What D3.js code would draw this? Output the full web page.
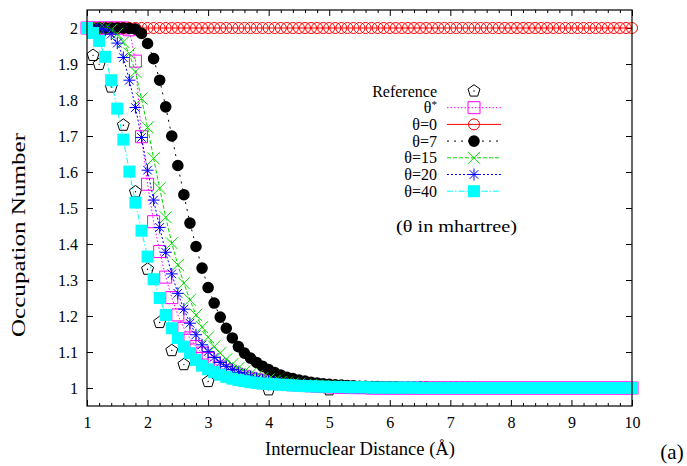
<!DOCTYPE html>
<html>
<head>
<meta charset="utf-8">
<script src="https://cdn.jsdelivr.net/npm/d3@7"></script>
<style>
  body { margin: 0; background: #fff; }
  svg text { font-family: "Liberation Serif", "Times New Roman", serif; fill: #000; }
</style>
</head>
<body>
<svg id="chart" width="687" height="466" viewBox="0 0 687 466"></svg>
<script>
// internuclear distance grid (Angstrom)
const distance = [
  1.0, 1.1, 1.2, 1.3, 1.4, 1.5, 1.6, 1.7, 1.8, 1.9,
  2.0, 2.1, 2.2, 2.3, 2.4, 2.5, 2.6, 2.7, 2.8, 2.9,
  3.0, 3.1, 3.2, 3.3, 3.4, 3.5, 3.6, 3.7, 3.8, 3.9,
  4.0, 4.1, 4.2, 4.3, 4.4, 4.5, 4.6, 4.7, 4.8, 4.9,
  5.0, 5.1, 5.2, 5.3, 5.4, 5.5, 5.6, 5.7, 5.8, 5.9,
  6.0, 6.1, 6.2, 6.3, 6.4, 6.5, 6.6, 6.7, 6.8, 6.9,
  7.0, 7.1, 7.2, 7.3, 7.4, 7.5, 7.6, 7.7, 7.8, 7.9,
  8.0, 8.1, 8.2, 8.3, 8.4, 8.5, 8.6, 8.7, 8.8, 8.9,
  9.0, 9.1, 9.2, 9.3, 9.4, 9.5, 9.6, 9.7, 9.8, 9.9,
  10.0
]

// reference points (own grid)
const refX = [1.1, 1.2, 1.4, 1.6, 1.8, 2.0, 2.2, 2.4, 2.6, 3.0, 4.0, 5.0]
const refY = [1.924, 1.899, 1.836, 1.730, 1.545, 1.330, 1.182, 1.104, 1.065, 1.018, 0.995, 0.995]

const thetaStar = [
  2.000, 2.000, 2.000, 2.000, 2.000, 2.000, 2.000, 1.995, 1.908, 1.698,
  1.566, 1.462, 1.379, 1.308, 1.251, 1.203, 1.166, 1.139, 1.115, 1.097,
  1.082, 1.069, 1.058, 1.049, 1.042, 1.036, 1.031, 1.027, 1.023, 1.020,
  1.017, 1.015, 1.013, 1.011, 1.009, 1.008, 1.007, 1.006, 1.005, 1.004,
  1.003, 1.003, 1.002, 1.002, 1.001, 1.001, 1.001, 1.000, 1.000, 1.000,
  1.000, 1.000, 1.000, 1.000, 1.000, 1.000, 1.000, 1.000, 1.000, 1.000,
  1.000, 1.000, 1.000, 1.000, 1.000, 1.000, 1.000, 1.000, 1.000, 1.000,
  1.000, 1.000, 1.000, 1.000, 1.000, 1.000, 1.000, 1.000, 1.000, 1.000,
  1.000, 1.000, 1.000, 1.000, 1.000, 1.000, 1.000, 1.000, 1.000, 1.000,
  1.000
]

const theta0 = [
  2, 2, 2, 2, 2, 2, 2, 2, 2, 2,
  2, 2, 2, 2, 2, 2, 2, 2, 2, 2,
  2, 2, 2, 2, 2, 2, 2, 2, 2, 2,
  2, 2, 2, 2, 2, 2, 2, 2, 2, 2,
  2, 2, 2, 2, 2, 2, 2, 2, 2, 2,
  2, 2, 2, 2, 2, 2, 2, 2, 2, 2,
  2, 2, 2, 2, 2, 2, 2, 2, 2, 2,
  2, 2, 2, 2, 2, 2, 2, 2, 2, 2,
  2, 2, 2, 2, 2, 2, 2, 2, 2, 2,
  2
]

const theta7 = [
  2.000, 2.000, 2.000, 2.000, 2.000, 2.000, 2.000, 1.999, 1.997, 1.985,
  1.957, 1.915, 1.855, 1.781, 1.700, 1.618, 1.537, 1.458, 1.393, 1.333,
  1.279, 1.236, 1.197, 1.166, 1.139, 1.115, 1.097, 1.083, 1.071, 1.060,
  1.051, 1.043, 1.036, 1.030, 1.026, 1.022, 1.019, 1.016, 1.014, 1.012,
  1.010, 1.009, 1.008, 1.007, 1.006, 1.005, 1.005, 1.004, 1.004, 1.003,
  1.003, 1.003, 1.002, 1.002, 1.002, 1.002, 1.002, 1.001, 1.001, 1.001,
  1.001, 1.001, 1.001, 1.001, 1.001, 1.000, 1.000, 1.000, 1.000, 1.000,
  1.000, 1.000, 1.000, 1.000, 1.000, 1.000, 1.000, 1.000, 1.000, 1.000,
  1.000, 1.000, 1.000, 1.000, 1.000, 1.000, 1.000, 1.000, 1.000, 1.000,
  1.000
]

const theta15 = [
  2.000, 2.000, 2.000, 1.999, 1.995, 1.984, 1.961, 1.929, 1.878, 1.804,
  1.724, 1.638, 1.555, 1.474, 1.402, 1.342, 1.291, 1.245, 1.203, 1.169,
  1.141, 1.115, 1.097, 1.080, 1.066, 1.055, 1.046, 1.039, 1.033, 1.028,
  1.024, 1.020, 1.017, 1.015, 1.013, 1.011, 1.009, 1.008, 1.007, 1.006,
  1.005, 1.005, 1.004, 1.004, 1.003, 1.003, 1.003, 1.002, 1.002, 1.002,
  1.002, 1.001, 1.001, 1.001, 1.001, 1.001, 1.001, 1.001, 1.000, 1.000,
  1.000, 1.000, 1.000, 1.000, 1.000, 1.000, 1.000, 1.000, 1.000, 1.000,
  1.000, 1.000, 1.000, 1.000, 1.000, 1.000, 1.000, 1.000, 1.000, 1.000,
  1.000, 1.000, 1.000, 1.000, 1.000, 1.000, 1.000, 1.000, 1.000, 1.000,
  1.000
]

const theta20 = [
  2.000, 2.000, 1.999, 1.995, 1.983, 1.958, 1.918, 1.855, 1.779, 1.696,
  1.605, 1.522, 1.446, 1.377, 1.317, 1.263, 1.219, 1.180, 1.148, 1.120,
  1.101, 1.085, 1.071, 1.060, 1.051, 1.043, 1.036, 1.031, 1.026, 1.022,
  1.019, 1.016, 1.014, 1.012, 1.010, 1.009, 1.008, 1.007, 1.006, 1.005,
  1.004, 1.004, 1.003, 1.003, 1.003, 1.002, 1.002, 1.002, 1.002, 1.001,
  1.001, 1.001, 1.001, 1.001, 1.001, 1.001, 1.000, 1.000, 1.000, 1.000,
  1.000, 1.000, 1.000, 1.000, 1.000, 1.000, 1.000, 1.000, 1.000, 1.000,
  1.000, 1.000, 1.000, 1.000, 1.000, 1.000, 1.000, 1.000, 1.000, 1.000,
  1.000, 1.000, 1.000, 1.000, 1.000, 1.000, 1.000, 1.000, 1.000, 1.000,
  1.000
]

const theta40 = [
  2.000, 1.986, 1.964, 1.920, 1.855, 1.776, 1.690, 1.601, 1.515, 1.437,
  1.365, 1.302, 1.250, 1.203, 1.166, 1.139, 1.115, 1.097, 1.078, 1.062,
  1.052, 1.044, 1.037, 1.031, 1.026, 1.022, 1.019, 1.016, 1.014, 1.012,
  1.011, 1.010, 1.009, 1.008, 1.007, 1.006, 1.005, 1.005, 1.004, 1.004,
  1.003, 1.003, 1.003, 1.002, 1.002, 1.002, 1.002, 1.001, 1.001, 1.001,
  1.001, 1.001, 1.001, 1.001, 1.001, 1.000, 1.000, 1.000, 1.000, 1.000,
  1.000, 1.000, 1.000, 1.000, 1.000, 1.000, 1.000, 1.000, 1.000, 1.000,
  1.000, 1.000, 1.000, 1.000, 1.000, 1.000, 1.000, 1.000, 1.000, 1.000,
  1.000, 1.000, 1.000, 1.000, 1.000, 1.000, 1.000, 1.000, 1.000, 1.000,
  1.000
]

const xTicks = [1, 2, 3, 4, 5, 6, 7, 8, 9, 10]
const yTicks = [1, 1.1, 1.2, 1.3, 1.4, 1.5, 1.6, 1.7, 1.8, 1.9, 2]

let svg = d3.select('#chart')
let plotLeft = 87, plotRight = 632, plotTop = 10, plotBottom = 406

let x = d3.scaleLinear().domain([1, 10]).range([plotLeft, plotRight])
let y = d3.scaleLinear().domain([0.95, 2.05]).range([plotBottom, plotTop])

// marker paths, centred on 0,0
function pentagon(r) {
    let pts = d3.range(5).map(function (k) {
        let a = -Math.PI / 2 + k * 2 * Math.PI / 5
        return [r * Math.cos(a), r * Math.sin(a)]
    })
    return 'M' + pts.join('L') + 'Z'
}
let markerPath = {
    pentagon: pentagon(6.3),
    square: 'M-6,-6H6V6H-6Z',
    circle: d3.symbol(d3.symbolCircle, Math.PI * 5.5 * 5.5)(),
    dot: d3.symbol(d3.symbolCircle, Math.PI * 5.8 * 5.8)(),
    times: 'M-6,-6L6,6M-6,6L6,-6',
    star: 'M-6,0H6M0,-6V6M-4.3,-4.3L4.3,4.3M-4.3,4.3L4.3,-4.3',
    box: 'M-6,-6H6V6H-6Z'
}

let series = [
    {label: 'Reference', xs: refX, ys: refY, color: '#000', marker: 'pentagon', fill: 'none', dash: null, line: false},
    {label: 'θ*', xs: distance, ys: thetaStar, color: '#ff00ff', marker: 'square', fill: 'none', dash: '1.5,2', line: true},
    {label: 'θ=0', xs: distance, ys: theta0, color: '#ff0000', marker: 'circle', fill: 'none', dash: null, line: true},
    {label: 'θ=7', xs: distance, ys: theta7, color: '#000', marker: 'dot', fill: '#000', dash: '2,5', line: true},
    {label: 'θ=15', xs: distance, ys: theta15, color: '#00dd00', marker: 'times', fill: 'none', dash: '4,2', line: true},
    {label: 'θ=20', xs: distance, ys: theta20, color: '#0000ff', marker: 'star', fill: 'none', dash: '2,2', line: true},
    {label: 'θ=40', xs: distance, ys: theta40, color: '#00ffff', marker: 'box', fill: '#00ffff', dash: '6,2,1.5,2', line: true}
]

function drawMarker(g, s, px, py) {
    g.append('path')
        .attr('d', markerPath[s.marker])
        .attr('transform', `translate(${px},${py})`)
        .attr('fill', s.fill)
        .attr('stroke', s.fill === 'none' ? s.color : 'none')
        .attr('stroke-width', 1)
    if (s.marker === 'pentagon') {
        g.append('circle').attr('cx', px).attr('cy', py).attr('r', 0.7).attr('fill', '#000')
    }
}

// axes with inward ticks on all four sides
let xMinor = [1.2, 1.4, 1.6, 1.8, 2.2, 2.4, 2.6, 2.8, 3.2, 3.4, 3.6, 3.8, 4.2, 4.4, 4.6, 4.8,
    5.2, 5.4, 5.6, 5.8, 6.2, 6.4, 6.6, 6.8, 7.2, 7.4, 7.6, 7.8, 8.2, 8.4, 8.6, 8.8, 9.2, 9.4, 9.6, 9.8]
svg.append('g').attr('transform', `translate(0,${plotBottom})`)
    .call(d3.axisBottom(x).tickValues(xTicks).tickSize(-6).tickPadding(11).tickFormat(d3.format('d')))
svg.append('g').attr('transform', `translate(0,${plotBottom})`)
    .call(d3.axisBottom(x).tickValues(xMinor).tickSize(-3).tickFormat(''))
svg.append('g').attr('transform', `translate(0,${plotTop})`)
    .call(d3.axisTop(x).tickValues(xTicks).tickSize(-6).tickFormat(''))
svg.append('g').attr('transform', `translate(0,${plotTop})`)
    .call(d3.axisTop(x).tickValues(xMinor).tickSize(-3).tickFormat(''))
svg.append('g').attr('transform', `translate(${plotLeft},0)`)
    .call(d3.axisLeft(y).tickValues(yTicks).tickSize(-6).tickPadding(9).tickFormat(d3.format('~g')))
svg.append('g').attr('transform', `translate(${plotRight},0)`)
    .call(d3.axisRight(y).tickValues(yTicks).tickSize(-6).tickFormat(''))

svg.selectAll('.domain').remove()
svg.selectAll('.tick line').attr('stroke', '#000')
svg.selectAll('.tick text').style('font-size', '16px').style('font-family', '"Liberation Serif", serif')

// series
series.forEach(function (s) {
    let g = svg.append('g')
    let pts = s.xs.map(function (d, i) { return [d, s.ys[i]] })
    if (s.line) {
        g.append('path')
            .datum(pts)
            .attr('d', d3.line().x(function (d) { return x(d[0]) }).y(function (d) { return y(d[1]) }))
            .attr('fill', 'none')
            .attr('stroke', s.color)
            .attr('stroke-width', 1)
            .attr('stroke-dasharray', s.dash)
    }
    pts.forEach(function (d) { drawMarker(g, s, x(d[0]), y(d[1])) })
})

// frame
svg.append('rect')
    .attr('x', plotLeft).attr('y', plotTop)
    .attr('width', plotRight - plotLeft).attr('height', plotBottom - plotTop)
    .attr('fill', 'none').attr('stroke', '#000').attr('stroke-width', 1.2)

// legend
let legend = svg.append('g')
series.forEach(function (s, i) {
    let ly = 91 + i * 16.7
    let t = legend.append('text')
        .attr('x', 437).attr('y', ly).attr('dy', '0.35em')
        .attr('text-anchor', 'end')
        .style('font-size', '16px')
    if (s.label === 'θ*') {
        t.append('tspan').text('θ')
        t.append('tspan').text('*').attr('dy', '-0.45em').style('font-size', '11px')
    } else {
        t.text(s.label)
    }
    if (s.line) {
        legend.append('line')
            .attr('x1', 447).attr('x2', 501).attr('y1', ly).attr('y2', ly)
            .attr('stroke', s.color).attr('stroke-width', 1)
            .attr('stroke-dasharray', s.dash)
    }
    drawMarker(legend, s, 474, ly)
})
legend.append('text')
    .attr('x', 396).attr('y', 226).attr('dy', '0.35em')
    .attr('textLength', 121).attr('lengthAdjust', 'spacingAndGlyphs')
    .style('font-size', '16px')
    .text('(θ in mhartree)')

// axis titles
svg.append('text')
    .attr('x', 265).attr('y', 449).attr('dy', '0.35em')
    .attr('textLength', 190).attr('lengthAdjust', 'spacingAndGlyphs')
    .style('font-size', '18px')
    .text('Internuclear Distance (Å)')
svg.append('text')
    .attr('transform', 'translate(18,337) rotate(-90)')
    .attr('dy', '0.35em')
    .attr('textLength', 204).attr('lengthAdjust', 'spacingAndGlyphs')
    .style('font-size', '19px')
    .text('Occupation Number')
svg.append('text')
    .attr('x', 672).attr('y', 452).attr('dy', '0.35em')
    .attr('text-anchor', 'middle')
    .style('font-size', '21px')
    .text('(a)')
</script>
</body>
</html>
